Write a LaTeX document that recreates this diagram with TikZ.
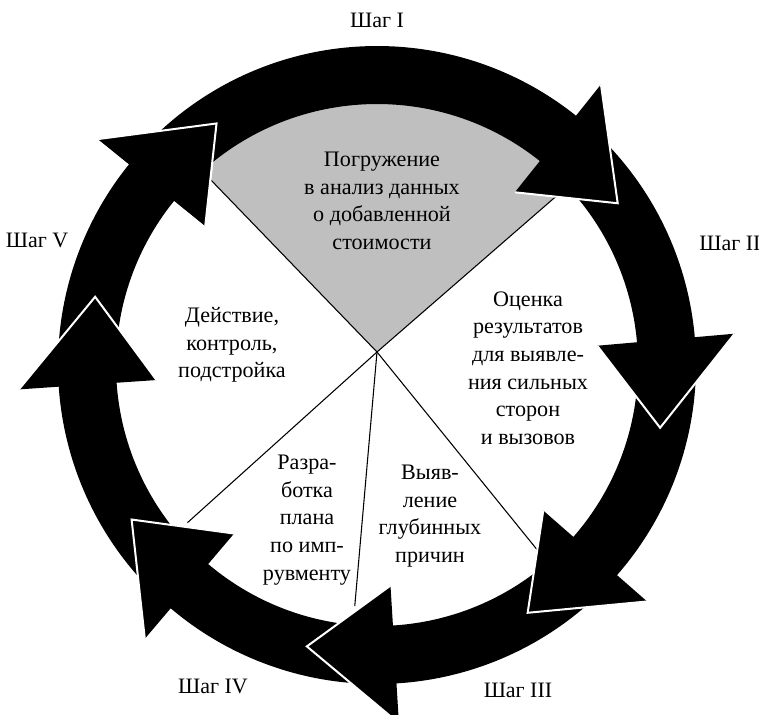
\documentclass[tikz,border=0pt]{standalone}
\usepackage{fontspec}
\setmainfont{Liberation Serif}
\usepackage{tikz}

\definecolor{sectorgray}{RGB}{191,191,191}

\def\rIn{261}
\def\rOut{319}
\def\rMid{290}
\def\rHeadIn{221}
\def\rHeadOut{359}

% #1 tail angle, #2 head base angle, #3 tip angle
\newcommand{\cycleArrow}[3]{%
  \fill[arrow body] (#1:\rOut) arc[start angle=#1, end angle=#2, radius=\rOut]
    -- (#2:\rHeadOut) -- (#3:\rMid) -- (#2:\rHeadIn) -- (#2:\rIn)
    arc[start angle=#2, end angle=#1, radius=\rIn] -- cycle;
  \draw[arrow edge] (#2:\rHeadOut) -- (#3:\rMid) -- (#2:\rHeadIn);
}
\newcommand{\cycleHead}[2]{%
  \fill[arrow body] (#1:\rHeadOut) -- (#2:\rMid) -- (#1:\rHeadIn) -- cycle;
  \draw[arrow edge] (#1:\rHeadOut) -- (#2:\rMid) -- (#1:\rHeadIn);
}

\begin{document}
\begin{tikzpicture}[
    x=0.75pt, y=0.75pt,
    arrow body/.style={fill=black},
    arrow edge/.style={draw=white, line width=1.5pt, line join=miter},
    pie line/.style={draw=black, line width=0.8pt},
    sector text/.style={align=center, inner sep=0pt,
      font=\fontsize{16.6pt}{20.7pt}\selectfont},
    step label/.style={inner sep=0pt, font=\fontsize{16.5pt}{20pt}\selectfont},
  ]
  \useasboundingbox (-377,-349) rectangle (382,365);

  \coordinate (hub) at (0,13);
  \fill[sectorgray] (hub) -- +(41:255) arc[start angle=41, end angle=134, radius=255] -- cycle;
  \foreach \a in {41,134,-51,-95,-138}
    \draw[pie line] (hub) -- +(\a:255);

  \cycleArrow{176.4}{141}{123.6}
  \cycleArrow{-137.8}{-176.1}{-193.6}
  \cycleArrow{-94}{-130.3}{-147.8}
  \cycleArrow{-48.7}{-86.5}{-104}
  \cycleArrow{-2.5}{-41.2}{-58.7}
  \cycleArrow{43.9}{5}{-12.5}
  \cycleArrow{133.6}{51.4}{33.9}
  \cycleHead{141}{123.6}

  \node[sector text] (immersion) at (5,164) {Погружение\\в анализ данных\\о добавленной\\стоимости};
  \node[sector text] (evaluation) at (151,-3) {Оценка\\результатов\\для выявле-\\ния сильных\\сторон\\и вызовов};
  \node[sector text] (causes) at (53,-151) {Выяв-\\ление\\глубинных\\причин};
  \node[sector text] (plan) at (-70,-155) {Разра-\\ботка\\плана\\по имп-\\рувменту};
  \node[sector text] (action) at (-145,20) {Действие,\\контроль,\\подстройка};

  \node[step label] (stepI) at (0,345) {Шаг I};
  \node[step label] (stepII) at (353,122) {Шаг II};
  \node[step label] (stepIII) at (141,-325) {Шаг III};
  \node[step label] (stepIV) at (-164,-321) {Шаг IV};
  \node[step label] (stepV) at (-340,125) {Шаг V};
\end{tikzpicture}
\end{document}
